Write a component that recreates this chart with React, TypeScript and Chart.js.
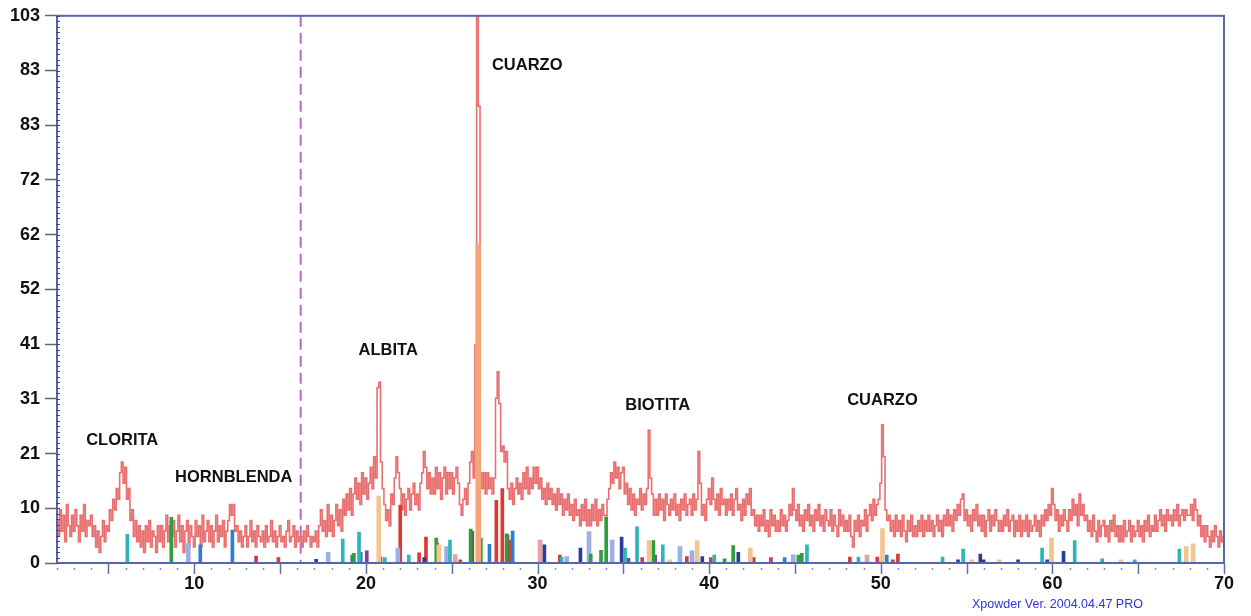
import React, { useEffect, useRef } from "react";
import { Chart, registerables } from "chart.js";

Chart.register(...registerables);

// ---- Diffractogram (2θ from 2 to 70, step 0.1) ----
const twoThetaStart = 2;
const twoThetaStep = 0.1;
const intensity: number[] = [
  // 2
  8, 5, 10, 6, 9, 4, 11, 7, 5, 9,
  // 3
  6, 10, 7, 4, 9, 6, 11, 5, 8, 7,
  // 4
  9, 5, 7, 3, 6, 2, 5, 8, 4, 7,
  // 5
  6, 10, 8, 12, 10, 14, 12, 17, 19, 15,
  // 6
  18, 12, 14, 8, 10, 5, 8, 4, 7, 3,
  // 7
  6, 2, 7, 4, 8, 3, 6, 5, 2, 7,
  // 8
  4, 7, 3, 6, 9, 4, 7, 5, 8, 3,
  // 9
  6, 9, 4, 7, 2, 6, 8, 3, 7, 5,
  // 10
  3, 8, 5, 7, 3, 9, 4, 6, 8, 4,
  // 11
  7, 3, 6, 9, 4, 7, 5, 8, 3, 6,
  // 12
  8, 11, 9, 11, 6, 7, 4, 6, 3, 5,
  // 13
  7, 3, 5, 8, 4, 6, 3, 7, 5, 4,
  // 14
  6, 3, 7, 4, 5, 8, 4, 6, 3, 5,
  // 15
  7, 4, 5, 3, 6, 8, 4, 5, 7, 3,
  // 16
  6, 4, 5, 3, 6, 4, 7, 5, 3, 5,
  // 17
  4, 6, 3, 7, 10, 6, 8, 5, 11, 6,
  // 18
  9, 5, 8, 11, 7, 10, 6, 12, 9, 13,
  // 19
  10, 14, 9, 13, 16, 12, 15, 11, 17, 13,
  // 20
  16, 12, 15, 18, 14, 20, 16, 33, 34, 19,
  // 21
  14, 11, 8, 10, 7, 13, 11, 16, 20, 17,
  // 22
  14, 10, 13, 9, 12, 14, 10, 13, 15, 11,
  // 23
  13, 10, 15, 17, 21, 18, 14, 17, 13, 16,
  // 24
  13, 18, 14, 17, 12, 16, 18, 13, 17, 14,
  // 25
  17, 13, 16, 18, 15, 11, 9, 12, 14, 11,
  // 26
  15, 19, 21, 16, 41, 103, 86, 17, 14, 17,
  // 27
  13, 17, 14, 16, 13, 16, 31, 36, 30, 21,
  // 28
  22, 19, 21, 14, 12, 15, 11, 14, 16, 13,
  // 29
  15, 12, 17, 14, 18, 13, 16, 14, 18, 15,
  // 30
  18, 14, 16, 12, 14, 11, 15, 12, 14, 11,
  // 31
  13, 10, 14, 11, 13, 9, 12, 10, 13, 9,
  // 32
  11, 8, 12, 9, 10, 7, 11, 8, 12, 7,
  // 33
  10, 7, 11, 8, 12, 7, 10, 8, 11, 9,
  // 34
  9, 12, 14, 17, 15, 19, 16, 18, 14, 17,
  // 35
  18, 13, 15, 11, 14, 10, 13, 9, 12, 11,
  // 36
  14, 10, 13, 11, 14, 25, 16, 13, 9, 12,
  // 37
  9, 13, 10, 12, 8, 13, 11, 9, 12, 10,
  // 38
  13, 9, 11, 8, 12, 10, 13, 9, 11, 12,
  // 39
  9, 13, 10, 12, 21, 15, 9, 11, 8, 12,
  // 40
  14, 11, 16, 12, 10, 13, 9, 14, 11, 12,
  // 41
  9, 12, 10, 13, 9, 12, 14, 10, 11, 8,
  // 42
  12, 9, 13, 11, 14, 9, 10, 7, 9, 6,
  // 43
  9, 7, 10, 6, 8, 5, 10, 7, 9, 6,
  // 44
  8, 6, 10, 7, 9, 6, 8, 11, 9, 14,
  // 45
  10, 8, 11, 7, 9, 6, 10, 8, 11, 7,
  // 46
  9, 6, 10, 8, 11, 7, 9, 6, 10, 8,
  // 47
  7, 10, 6, 9, 7, 5, 10, 7, 9, 6,
  // 48
  8, 6, 9, 5, 3, 8, 6, 9, 5, 8,
  // 49
  7, 10, 6, 9, 11, 8, 12, 9, 11, 12,
  // 50
  15, 26, 20, 10, 8, 9, 6, 8, 5, 9,
  // 51
  6, 8, 5, 9, 6, 4, 8, 6, 9, 5,
  // 52
  7, 5, 8, 6, 9, 5, 8, 6, 9, 6,
  // 53
  8, 5, 7, 9, 6, 8, 5, 9, 7, 10,
  // 54
  7, 9, 6, 10, 8, 11, 9, 12, 13, 8,
  // 55
  10, 7, 9, 6, 10, 8, 11, 7, 9, 6,
  // 56
  9, 5, 8, 10, 6, 9, 7, 10, 8, 6,
  // 57
  8, 6, 9, 7, 10, 6, 8, 9, 5, 8,
  // 58
  6, 9, 5, 8, 6, 9, 5, 8, 6, 7,
  // 59
  9, 6, 8, 5, 9, 7, 10, 8, 11, 9,
  // 60
  14, 11, 8, 10, 6, 9, 7, 10, 8, 6,
  // 61
  10, 8, 12, 9, 11, 7, 13, 9, 11, 8,
  // 62
  9, 6, 8, 5, 9, 6, 4, 8, 5, 7,
  // 63
  8, 5, 7, 4, 8, 6, 9, 5, 7, 4,
  // 64
  7, 4, 8, 5, 6, 8, 4, 7, 5, 6,
  // 65
  8, 5, 7, 4, 8, 6, 9, 5, 7, 6,
  // 66
  9, 6, 8, 10, 7, 9, 6, 10, 8, 9,
  // 67
  7, 10, 8, 11, 7, 9, 10, 8, 10, 9,
  // 68
  9, 11, 8, 12, 10, 7, 9, 5, 7, 4,
  // 69
  7, 5, 3, 6, 4, 7, 5, 3, 6, 4,
  // 70
  5,
];

// ---- Reference pattern sticks [2θ, height] ----
const tealSticks: [number, number][] = [
  [6.1, 5.4], [18.65, 4.5], [19.6, 5.8], [21.1, 1], [22.5, 1.5], [24.9, 4.3], [31.4, 1.1],
  [35.1, 2.8], [35.8, 6.8], [37.3, 3.4], [40.3, 1.5], [45.7, 3.4], [48.7, 1.1], [53.6, 1.1],
  [54.8, 2.6], [59.4, 2.8], [61.3, 4.2], [62.9, 0.8], [64.8, 0.6], [67.4, 2.6],
];
const greenSticks: [number, number][] = [
  [8.66, 8.6], [19.2, 1.5], [19.3, 1.8], [24.1, 4.7], [26.1, 6.4], [26.7, 4.7], [28.2, 5.5],
  [33.1, 1.7], [33.7, 2.4], [34.0, 8.7], [36.75, 4.2], [40.9, 0.8], [41.4, 3.3], [45.2, 1.5], [45.4, 1.8],
];
const blueSticks: [number, number][] = [
  [10.35, 3.4], [12.22, 6.2], [19.7, 2], [27.2, 3.5], [28.55, 6], [44.4, 1], [50.35, 1.5],
];
const lavenderSticks: [number, number][] = [
  [9.65, 3.7], [17.8, 2], [21.86, 2.8], [24.7, 3.1], [31.7, 1.2], [33.0, 5.9], [34.35, 4.3],
  [38.3, 3.1], [39.0, 2.3], [44.9, 1.6],
];
const navySticks: [number, number][] = [
  [17.1, 0.7], [23.4, 1], [30.4, 3.4], [32.5, 2.8], [34.9, 4.9], [39.6, 1.2], [41.7, 2],
  [54.5, 0.6], [55.8, 1.7], [56.0, 0.6], [58.0, 0.6], [59.7, 0.6], [60.65, 2.2],
];
const purpleSticks: [number, number][] = [
  [20.05, 2.3], [24.15, 3.7], [35.3, 0.9], [36.85, 1.5],
];
const tanSticks: [number, number][] = [
  [20.75, 12.6], [24.25, 3.4], [36.5, 4.2], [37.7, 0.6], [39.3, 4.2], [42.4, 2.8], [50.1, 6.5],
  [55.3, 0.6], [56.9, 0.6], [59.95, 4.7], [64.0, 0.6], [67.8, 3.1], [68.2, 3.6],
];
const quartzSticks: [number, number][] = [[26.55, 60]];
const redSticks: [number, number][] = [
  [13.6, 1.3], [14.9, 1], [20.85, 1.1], [22.0, 10.9], [23.1, 1.9], [23.5, 4.9], [25.5, 0.6],
  [27.6, 11.8], [27.95, 14], [28.4, 4.3], [31.3, 1.5], [36.1, 1], [38.7, 1.2], [40.1, 1],
  [42.6, 1], [43.6, 1], [48.2, 1.1], [49.8, 1.1], [50.7, 0.6], [51.0, 1.7],
];
const pinkSticks: [number, number][] = [[25.2, 1.6], [30.15, 4.3], [49.2, 1.5]];
const brownSticks: [number, number][] = [[26.2, 6], [28.25, 5.3]];

// ---- Axes ----
const xMin = 2;
const xMax = 70;
const xTickValues = [10, 20, 30, 40, 50, 60, 70];
const yMax = 103;
const yTickValues = [0, 10.3, 20.6, 30.9, 41.2, 51.5, 61.8, 72.1, 82.4, 92.7, 103];
const yTickLabels = ["0", "10", "21", "31", "41", "52", "62", "72", "83", "83", "103"];

// ---- Annotations ----
const mineralNames = ["CLORITA", "HORNBLENDA", "ALBITA", "CUARZO", "BIOTITA", "CUARZO"];
const mineralX = [5.8, 12.3, 21.3, 29.4, 37.0, 50.1];
const mineralY = [23, 16.1, 40, 93.6, 29.6, 30.6];
const markerX = 16.2;

const FONT = 'Arial, "Liberation Sans", Helvetica, sans-serif';

const stickDataset = (data: [number, number][], color: string, thickness = 3) => ({
  type: "bar" as const,
  data: data.map(([x, y]) => ({ x, y })),
  backgroundColor: color,
  borderWidth: 0,
  barThickness: thickness,
  grouped: false,
  order: 0,
});

const decorPlugin = {
  id: "decor",
  afterDraw(chart: any) {
    const { ctx, chartArea } = chart;
    const xs = chart.scales.x;
    const ys = chart.scales.y;
    const { left, right, top, bottom } = chartArea;
    ctx.save();

    // dashed marker
    const mx = xs.getPixelForValue(markerX);
    ctx.strokeStyle = "#b66bc2";
    ctx.lineWidth = 2;
    ctx.setLineDash([11, 6]);
    ctx.beginPath();
    ctx.moveTo(mx, top);
    ctx.lineTo(mx, bottom);
    ctx.stroke();
    ctx.setLineDash([]);

    // frame
    ctx.strokeStyle = "#5566aa";
    ctx.lineWidth = 2;
    ctx.strokeRect(left, top, right - left, bottom - top);

    // left hatch (minor y ticks)
    ctx.strokeStyle = "#3a4b96";
    ctx.lineWidth = 1;
    for (let i = 0; i <= 100; i++) {
      const py = Math.round(ys.getPixelForValue((yMax * i) / 100)) + 0.5;
      ctx.beginPath();
      ctx.moveTo(left - 1, py);
      ctx.lineTo(left + 3, py);
      ctx.stroke();
    }

    // x ticks
    for (let v = xMin; v <= xMax; v++) {
      const px = Math.round(xs.getPixelForValue(v)) + 0.5;
      ctx.beginPath();
      if (v % 5 === 0) {
        ctx.strokeStyle = "#6070a8";
        ctx.lineWidth = 1.5;
        ctx.moveTo(px, bottom);
        ctx.lineTo(px, bottom + 11);
      } else {
        ctx.strokeStyle = "#8090b8";
        ctx.lineWidth = 1.5;
        ctx.moveTo(px, bottom + 5);
        ctx.lineTo(px, bottom + 7);
      }
      ctx.stroke();
    }

    // mineral names
    ctx.fillStyle = "#111";
    ctx.font = `bold 16.5px ${FONT}`;
    ctx.textAlign = "center";
    ctx.textBaseline = "middle";
    mineralNames.forEach((name, i) => {
      ctx.fillText(name, xs.getPixelForValue(mineralX[i]), ys.getPixelForValue(mineralY[i]));
    });
    ctx.restore();
  },
};

export default function App() {
  const canvasRef = useRef<HTMLCanvasElement | null>(null);

  useEffect(() => {
    if (!canvasRef.current) return;
    const points = intensity.map((v, i) => ({
      x: +(twoThetaStart + i * twoThetaStep).toFixed(2),
      y: v,
    }));
    const chart = new Chart(canvasRef.current, {
      type: "line",
      data: {
        datasets: [
          {
            type: "line",
            data: points,
            borderColor: "rgba(224, 56, 56, 0.72)",
            borderWidth: 1.6,
            pointRadius: 0,
            stepped: "middle",
            fill: false,
            order: 10,
          } as any,
          stickDataset(quartzSticks, "#f5a57a", 5),
          stickDataset(tanSticks, "#f2c48e", 4),
          stickDataset(tealSticks, "#2fb4b8", 3),
          stickDataset(greenSticks, "#2e9e3e", 3),
          stickDataset(blueSticks, "#2f7fd0", 3),
          stickDataset(lavenderSticks, "#9cb0e2", 4),
          stickDataset(navySticks, "#2c3c96", 3),
          stickDataset(purpleSticks, "#8b3c9e", 3),
          stickDataset(redSticks, "#d93a34", 3),
          stickDataset(pinkSticks, "#e8a0a0", 4),
          stickDataset(brownSticks, "#8c4a4a", 3),
        ],
      },
      options: {
        animation: false,
        responsive: true,
        maintainAspectRatio: false,
        layout: { padding: { top: 14, right: 27, bottom: 0, left: 0 } },
        plugins: { legend: { display: false }, tooltip: { enabled: false } },
        scales: {
          x: {
            type: "linear",
            min: xMin,
            max: xMax,
            offset: false,
            grid: { display: false, drawTicks: false },
            border: { display: false },
            afterBuildTicks: (s: any) => {
              s.ticks = xTickValues.map((v) => ({ value: v }));
            },
            afterFit: (s: any) => {
              s.height = 53;
            },
            ticks: {
              autoSkip: false,
              maxRotation: 0,
              padding: 10,
              color: "#111",
              font: { family: FONT, size: 18, weight: "bold" },
            },
          },
          y: {
            type: "linear",
            min: 0,
            max: yMax,
            grid: {
              drawOnChartArea: false,
              drawTicks: true,
              tickLength: 12,
              tickColor: "#666",
              tickWidth: 1.5,
            },
            border: { display: false },
            afterBuildTicks: (s: any) => {
              s.ticks = yTickValues.map((v) => ({ value: v }));
            },
            afterFit: (s: any) => {
              s.width = 57;
            },
            ticks: {
              autoSkip: false,
              padding: 5,
              color: "#111",
              font: { family: FONT, size: 18, weight: "bold" },
              callback: (_v: any, i: number) => yTickLabels[i],
            },
          },
        },
      } as any,
      plugins: [decorPlugin],
    });
    return () => chart.destroy();
  }, []);

  return (
    <div
      style={{
        position: "fixed",
        left: 0,
        top: 0,
        width: 1251,
        height: 616,
        background: "#fff",
      }}
    >
      <canvas ref={canvasRef} />
      <div
        style={{
          position: "absolute",
          left: 972,
          top: 597,
          font: `12.5px ${FONT}`,
          color: "#3333dd",
          whiteSpace: "nowrap",
        }}
      >
        Xpowder Ver. 2004.04.47 PRO
      </div>
    </div>
  );
}
